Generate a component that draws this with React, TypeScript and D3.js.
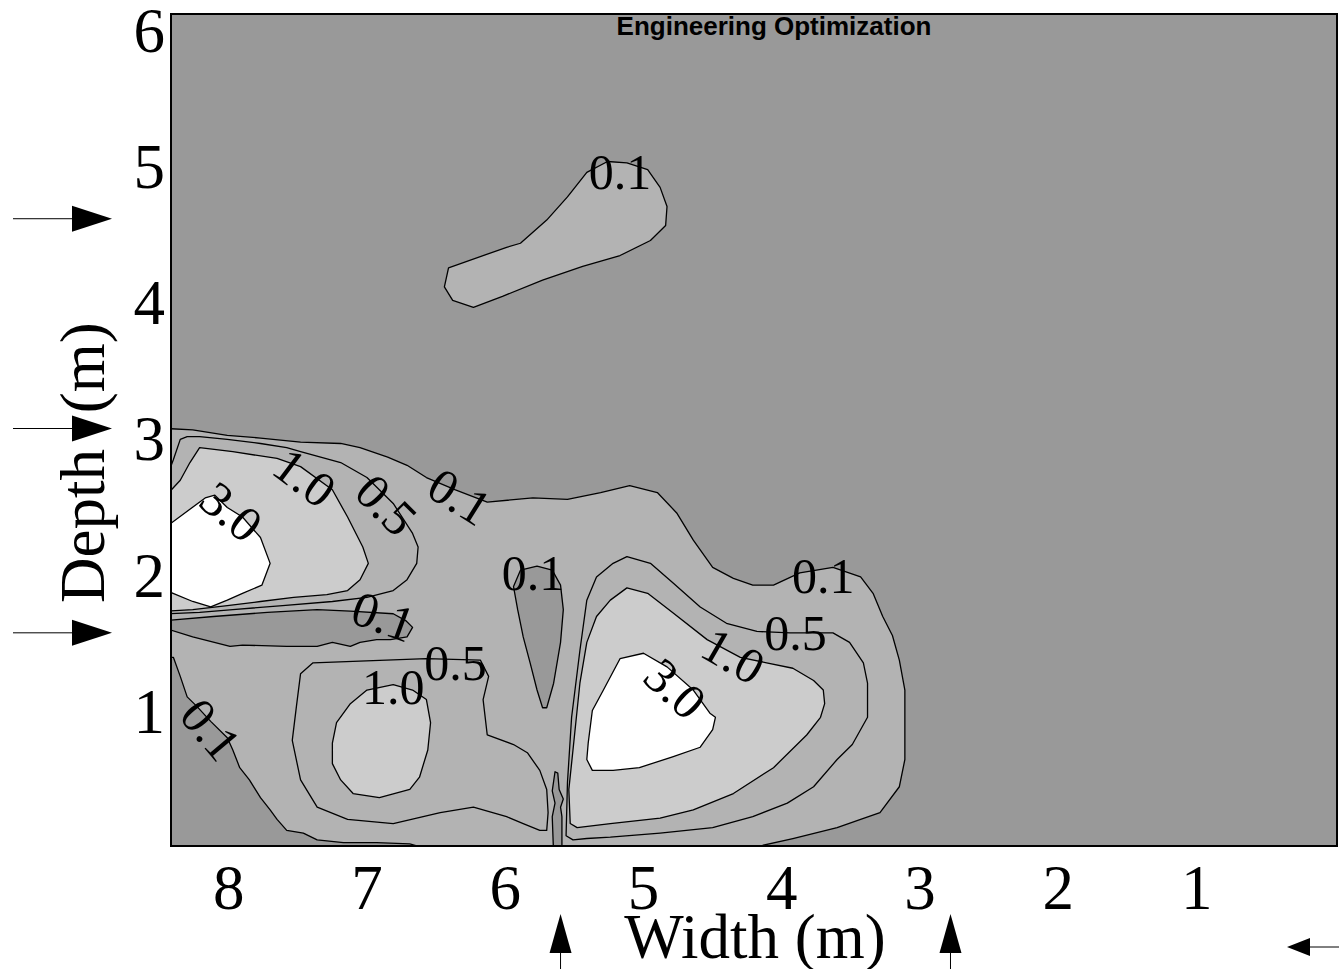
import React from "react";
import * as d3 from "d3";

type Pt = [number, number];

// ---------- axes ----------
const xTicks = [8, 7, 6, 5, 4, 3, 2, 1];
const yTicks = [1, 2, 3, 4, 5, 6];
const xTitle = "Width (m)";
const yTitleParts = ["Depth", " (m)"];
const chartTitle = "Engineering Optimization";
const X_DOMAIN: [number, number] = [8.417, -0.015];
const Y_DOMAIN: [number, number] = [0.015, 6.123];

// ---------- contour regions (width m, depth m) ----------
const region01Main: Pt[] = [
  [8.45, 3.08], [8.26, 3.07], [8.01, 3.03], [7.77, 3.01], [7.48, 2.98], [7.19, 2.97], [7.05, 2.94],
  [6.85, 2.87], [6.71, 2.81], [6.57, 2.72], [6.36, 2.63], [6.13, 2.54], [5.8, 2.57], [5.55, 2.56],
  [5.31, 2.61], [5.1, 2.66], [4.9, 2.61], [4.76, 2.46], [4.64, 2.26], [4.5, 2.06], [4.35, 1.98],
  [4.21, 1.93], [4.06, 1.93], [3.87, 2.02], [3.63, 2.06], [3.43, 1.99], [3.34, 1.87], [3.27, 1.7],
  [3.2, 1.56], [3.15, 1.38], [3.11, 1.16], [3.11, 0.79], [3.11, 0.65], [3.15, 0.45], [3.29, 0.26],
  [3.43, 0.21], [3.6, 0.15], [3.92, 0.07], [4.18, 0.01], [4.18, -0.1], [6.62, -0.1], [6.62, 0.01],
  [6.69, 0.03], [6.93, 0.04], [7.17, 0.04], [7.36, 0.06], [7.46, 0.11], [7.58, 0.13], [7.65, 0.21],
  [7.7, 0.28], [7.77, 0.37], [7.85, 0.5], [7.92, 0.59], [7.97, 0.72], [8.01, 0.81], [8.13, 0.93],
  [8.23, 1.04], [8.3, 1.11], [8.35, 1.26], [8.4, 1.4], [8.45, 1.4],
];
const region01Blob: Pt[] = [
  [6.41, 4.26], [6.44, 4.12], [6.38, 4.02], [6.23, 3.97], [6.02, 4.05], [5.73, 4.17], [5.44, 4.27],
  [5.17, 4.35], [4.95, 4.46], [4.84, 4.57], [4.83, 4.71], [4.88, 4.85], [4.97, 4.98], [5.12, 5.03],
  [5.26, 5.04], [5.41, 4.96], [5.55, 4.78], [5.7, 4.61], [5.89, 4.44], [5.99, 4.41],
];
const region05UpperLeft: Pt[] = [
  [8.45, 2.72], [8.4, 2.85], [8.35, 3.0], [8.3, 3.02], [8.21, 3.02], [8.01, 3.0], [7.77, 2.97],
  [7.58, 2.94], [7.48, 2.91], [7.19, 2.83], [7.0, 2.72], [6.81, 2.53], [6.67, 2.31], [6.63, 2.21],
  [6.64, 2.09], [6.71, 1.97], [6.81, 1.89], [7.0, 1.84], [7.25, 1.81], [7.61, 1.78], [7.97, 1.75],
  [8.21, 1.73], [8.45, 1.72],
];
const region05Right: Pt[] = [
  [5.56, 0.09], [5.55, 0.48], [5.52, 0.96], [5.46, 1.45], [5.41, 1.82], [5.34, 1.99], [5.22, 2.09],
  [5.12, 2.14], [4.95, 2.09], [4.79, 1.95], [4.59, 1.77], [4.4, 1.65], [4.18, 1.59], [3.94, 1.58],
  [3.63, 1.58], [3.51, 1.51], [3.41, 1.36], [3.38, 1.21], [3.38, 0.96], [3.49, 0.76], [3.6, 0.65],
  [3.77, 0.45], [3.96, 0.33], [4.21, 0.23], [4.5, 0.15], [4.88, 0.11], [5.24, 0.08], [5.41, 0.07],
  [5.51, 0.06],
];
const region05LowerLeft: Pt[] = [
  [7.39, 1.36], [6.57, 1.39], [6.18, 1.38], [6.12, 1.26], [6.16, 1.09], [6.13, 0.83], [5.94, 0.76],
  [5.84, 0.7], [5.75, 0.57], [5.7, 0.43], [5.69, 0.26], [5.7, 0.13], [5.75, 0.13], [5.87, 0.18],
  [5.99, 0.23], [6.23, 0.3], [6.47, 0.26], [6.81, 0.18], [7.14, 0.21], [7.36, 0.3], [7.48, 0.5],
  [7.54, 0.79], [7.51, 1.04], [7.48, 1.28],
];
const region10UpperLeft: Pt[] = [
  [8.45, 2.59], [8.35, 2.7], [8.28, 2.83], [8.21, 2.94], [7.97, 2.91], [7.65, 2.86], [7.48, 2.8],
  [7.25, 2.63], [7.14, 2.43], [7.03, 2.21], [6.99, 2.09], [7.05, 1.97], [7.14, 1.89], [7.29, 1.86],
  [7.53, 1.84], [7.77, 1.81], [8.01, 1.78], [8.26, 1.75], [8.45, 1.74],
];
const region10Right: Pt[] = [
  [5.53, 0.18], [5.54, 0.43], [5.51, 0.72], [5.46, 1.21], [5.41, 1.51], [5.34, 1.7], [5.24, 1.82],
  [5.12, 1.91], [4.97, 1.87], [4.79, 1.73], [4.54, 1.53], [4.3, 1.4], [4.11, 1.36], [3.92, 1.32],
  [3.77, 1.23], [3.7, 1.16], [3.69, 1.06], [3.72, 0.96], [3.82, 0.83], [4.06, 0.59], [4.35, 0.4],
  [4.64, 0.28], [4.88, 0.22], [5.24, 0.18], [5.48, 0.15],
];
const region10LowerLeft: Pt[] = [
  [7.25, 0.77], [7.22, 0.92], [7.12, 1.06], [7.0, 1.16], [6.81, 1.2], [6.67, 1.16], [6.57, 1.09],
  [6.54, 0.92], [6.56, 0.72], [6.62, 0.52], [6.69, 0.43], [6.91, 0.37], [7.1, 0.4], [7.19, 0.5],
  [7.25, 0.62],
];
const region30UpperLeft: Pt[] = [
  [8.45, 2.36], [8.17, 2.57], [8.1, 2.59], [8.01, 2.5], [7.9, 2.43], [7.77, 2.28], [7.7, 2.09],
  [7.76, 1.93], [7.9, 1.87], [8.01, 1.82], [8.13, 1.77], [8.26, 1.81], [8.45, 1.89],
];
const region30Right: Pt[] = [
  [5.17, 1.39], [5.0, 1.43], [4.83, 1.33], [4.64, 1.16], [4.52, 0.99], [4.48, 0.96], [4.5, 0.87],
  [4.59, 0.74], [4.79, 0.67], [5.03, 0.59], [5.22, 0.57], [5.37, 0.57], [5.41, 0.65], [5.4, 0.77],
  [5.37, 1.01], [5.29, 1.16],
];
const below01Band: Pt[] = [
  [8.45, 1.67], [8.11, 1.7], [7.72, 1.73], [7.36, 1.75], [7.12, 1.74], [6.81, 1.72], [6.72, 1.67],
  [6.67, 1.62], [6.71, 1.55], [6.83, 1.53], [6.93, 1.53], [7.05, 1.51], [7.12, 1.48], [7.25, 1.51],
  [7.36, 1.48], [7.58, 1.48], [7.9, 1.49], [7.99, 1.48], [8.26, 1.55], [8.45, 1.61],
];
const below01Spike: Pt[] = [
  [5.94, 1.92], [5.89, 2.04], [5.77, 2.07], [5.66, 2.04], [5.6, 1.93], [5.58, 1.75], [5.6, 1.51],
  [5.65, 1.21], [5.7, 1.03], [5.73, 1.03], [5.77, 1.16], [5.82, 1.36], [5.87, 1.55], [5.91, 1.75],
];
const below01Sliver: Pt[] = [
  [5.65, -0.05], [5.66, 0.23], [5.64, 0.33], [5.66, 0.42], [5.64, 0.56], [5.62, 0.55], [5.61, 0.43],
  [5.58, 0.36], [5.6, 0.3], [5.59, 0.23], [5.59, -0.05],
];

// level of each region (lower bound), drawn in this order
const regions: { pts: Pt[]; level: string }[] = [
  { pts: region01Main, level: "0.1" },
  { pts: region01Blob, level: "0.1" },
  { pts: region05UpperLeft, level: "0.5" },
  { pts: region05Right, level: "0.5" },
  { pts: region05LowerLeft, level: "0.5" },
  { pts: region10UpperLeft, level: "1.0" },
  { pts: region10Right, level: "1.0" },
  { pts: region10LowerLeft, level: "1.0" },
  { pts: region30UpperLeft, level: "3.0" },
  { pts: region30Right, level: "3.0" },
  { pts: below01Band, level: "0" },
  { pts: below01Spike, level: "0" },
  { pts: below01Sliver, level: "0" },
];
const levelFill: Record<string, string> = {
  "0": "#999999",
  "0.1": "#b3b3b3",
  "0.5": "#b3b3b3",
  "1.0": "#cccccc",
  "3.0": "#ffffff",
};

// contour labels: text, width, depth, rotation
const labelTexts = ["0.1", "3.0", "1.0", "0.5", "0.1", "0.1", "0.1", "1.0", "0.5", "0.1", "0.1", "0.5", "1.0", "3.0"];
const labelWidths = [5.17, 7.98, 7.45, 6.86, 6.33, 6.88, 8.13, 6.81, 6.36, 5.8, 3.7, 3.9, 4.35, 4.77];
const labelDepths = [4.96, 2.47, 2.72, 2.52, 2.58, 1.7, 0.87, 1.18, 1.36, 2.02, 2.0, 1.58, 1.41, 1.17];
const labelAngles = [0, 40, 37, 45, 32, 20, 50, 0, 0, 0, 0, 0, 30, 43];

// marker arrows
const depthArrows = [4.62, 3.08, 1.58];
const widthArrows = [5.6, 2.78];

const SERIF = "'Liberation Serif', 'Times New Roman', Times, serif";
const SANS = "'Liberation Sans', Arial, Helvetica, sans-serif";

export default function App() {
  const left = 171, right = 1337, top = 14, bottom = 846;
  const x = d3.scaleLinear().domain(X_DOMAIN).range([left, right]);
  const y = d3.scaleLinear().domain(Y_DOMAIN).range([bottom, top]);
  const line = d3.line<Pt>().x((p) => x(p[0])).y((p) => y(p[1]));
  const path = (pts: Pt[]) => (line(pts) || "") + "Z";

  return (
    <svg
      width={1339}
      height={969}
      style={{ position: "absolute", left: 0, top: 0, background: "#fff" }}
    >
      <defs>
        <clipPath id="plotClip">
          <rect x={left} y={top} width={right - left} height={bottom - top} />
        </clipPath>
      </defs>
      <rect x={left} y={top} width={right - left} height={bottom - top} fill="#999999" />
      <g clipPath="url(#plotClip)">
        {regions.map((r, i) => (
          <path key={"f" + i} d={path(r.pts)} fill={levelFill[r.level]} stroke="none" />
        ))}
        {regions.map((r, i) => (
          <path key={"s" + i} d={path(r.pts)} fill="none" stroke="#000" strokeWidth={1.3} strokeLinejoin="round" />
        ))}
        {labelTexts.map((t, i) => (
          <text
            key={"l" + i}
            transform={`translate(${x(labelWidths[i])},${y(labelDepths[i])}) rotate(${labelAngles[i]})`}
            textAnchor="middle"
            dy="0.34em"
            fontFamily={SERIF}
            fontSize={50}
            fill="#000"
          >
            {t}
          </text>
        ))}
      </g>
      <rect x={left} y={top} width={right - left} height={bottom - top} fill="none" stroke="#000" strokeWidth={2} />
      <text x={774} y={35} textAnchor="middle" fontFamily={SANS} fontWeight="bold" fontSize={26} fill="#000">
        {chartTitle}
      </text>
      {xTicks.map((t) => (
        <text key={"x" + t} x={x(t)} y={909} textAnchor="middle" fontFamily={SERIF} fontSize={63} fill="#000">
          {t}
        </text>
      ))}
      {yTicks.map((t) => (
        <text key={"y" + t} x={165} y={y(t) + 21} textAnchor="end" fontFamily={SERIF} fontSize={63} fill="#000">
          {t}
        </text>
      ))}
      <text x={755} y={958} textAnchor="middle" fontFamily={SERIF} fontSize={63} fill="#000">
        {xTitle}
      </text>
      <text
        transform={`translate(104,0) rotate(-90)`}
        x={-603}
        y={0}
        textAnchor="start"
        fontFamily={SERIF}
        fontSize={63}
        fill="#000"
      >
        <tspan>{yTitleParts[0]}</tspan>
        <tspan dx={20}>{yTitleParts[1]}</tspan>
      </text>
      {depthArrows.map((d, i) => {
        const yy = y(d);
        return (
          <g key={"da" + i}>
            <line x1={13} x2={74} y1={yy} y2={yy} stroke="#000" strokeWidth={1} />
            <path d={`M72,${yy - 13}L112,${yy}L72,${yy + 13}Z`} fill="#000" />
          </g>
        );
      })}
      {widthArrows.map((w, i) => {
        const xx = x(w);
        return (
          <g key={"wa" + i}>
            <line x1={xx} x2={xx} y1={950} y2={969} stroke="#000" strokeWidth={1} />
            <path d={`M${xx - 11},953L${xx},914L${xx + 11},953Z`} fill="#000" />
          </g>
        );
      })}
      <g>
        <line x1={1308} x2={1339} y1={947} y2={947} stroke="#000" strokeWidth={1} />
        <path d="M1310,938L1287,947L1310,956Z" fill="#000" />
      </g>
    </svg>
  );
}
